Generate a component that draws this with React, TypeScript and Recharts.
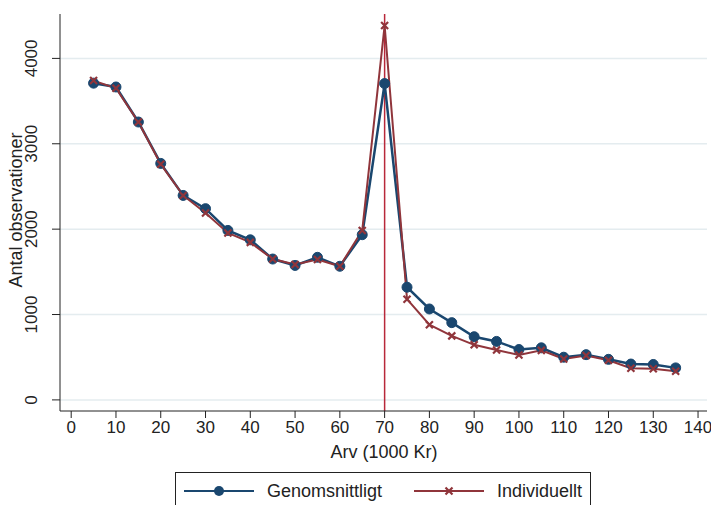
import { LineChart, Line, XAxis, YAxis, CartesianGrid, ReferenceLine } from "recharts"

// Arv (1000 Kr)
const arv = [5, 10, 15, 20, 25, 30, 35, 40, 45, 50, 55, 60, 65, 70, 75, 80, 85, 90, 95, 100, 105, 110, 115, 120, 125, 130, 135]
const genomsnittligt = [3710, 3665, 3255, 2770, 2395, 2240, 1985, 1875, 1650, 1575, 1670, 1565, 1935, 3705, 1320, 1065, 905, 740, 685, 590, 610, 500, 530, 475, 420, 415, 375]
const individuellt = [3740, 3650, 3255, 2760, 2395, 2190, 1955, 1845, 1650, 1585, 1645, 1565, 1985, 4385, 1180, 880, 750, 645, 585, 525, 580, 480, 520, 465, 370, 365, 335]
const xTicks = [0, 10, 20, 30, 40, 50, 60, 70, 80, 90, 100, 110, 120, 130, 140]
const yTicks = [0, 1000, 2000, 3000, 4000]

const data = arv.map((a, i) => ({ arv: a, gen: genomsnittligt[i], ind: individuellt[i] }))

const BLUE = "#1a476f"
const RED = "#90353b"
const FONT = "'Liberation Sans Narrow', 'Arial Narrow', 'Liberation Sans', Arial, sans-serif"

const CrossDot = (props: any) => {
  const { cx, cy } = props
  if (cx == null || cy == null) return null
  const s = 3.5
  return (
    <path
      d={`M${cx - s},${cy - s}L${cx + s},${cy + s}M${cx - s},${cy + s}L${cx + s},${cy - s}`}
      stroke={RED}
      strokeWidth={2.2}
      fill="none"
    />
  )
}

const YTick = (props: any) => {
  const { y, payload } = props
  return (
    <text
      x={37}
      y={y}
      transform={`rotate(-90, 37, ${y})`}
      textAnchor="middle"
      fontSize={17}
      fontFamily={FONT}
      fill="#222"
    >
      {payload.value}
    </text>
  )
}

export default function App() {
  return (
    <div style={{ position: "relative", width: 711, height: 505, background: "#fff" }}>
      <style>{`body{margin:0}`}</style>
      <LineChart width={711} height={505} data={data} margin={{ top: 14, right: 4, bottom: 44, left: 0 }}>
        <CartesianGrid vertical={false} stroke="#e4ecef" strokeWidth={1.5} horizontalValues={yTicks} />
        <XAxis
          dataKey="arv"
          type="number"
          domain={[-2.5, 142]}
          ticks={xTicks}
          allowDataOverflow
          height={50}
          tickSize={7}
          tickMargin={3}
          stroke="#222"
          tick={{ fontSize: 17, fontFamily: FONT, fill: "#222" }}
          label={{
            content: () => (
              <text x={384} y={458} textAnchor="middle" fontSize={18} fontFamily={FONT} fill="#222">
                Arv (1000 Kr)
              </text>
            ),
          }}
        />
        <YAxis
          type="number"
          domain={[-130, 4520]}
          ticks={yTicks}
          allowDataOverflow
          width={60}
          tickSize={8}
          stroke="#222"
          tick={<YTick />}
          label={{
            content: () => (
              <text
                x={22}
                y={210}
                transform="rotate(-90, 22, 210)"
                textAnchor="middle"
                fontSize={18}
                fontFamily={FONT}
                fill="#222"
              >
                Antal observationer
              </text>
            ),
          }}
        />
        <ReferenceLine x={70} stroke="#b8283a" strokeWidth={1.5} />
        <Line
          type="linear"
          dataKey="gen"
          stroke={BLUE}
          strokeWidth={2.5}
          dot={{ r: 5, fill: BLUE, stroke: BLUE, strokeWidth: 1 }}
          isAnimationActive={false}
        />
        <Line
          type="linear"
          dataKey="ind"
          stroke={RED}
          strokeWidth={2}
          dot={<CrossDot />}
          isAnimationActive={false}
        />
      </LineChart>
      <div
        style={{
          position: "absolute",
          left: 175,
          top: 472,
          width: 416,
          height: 40,
          border: "1px solid #222",
          boxSizing: "border-box",
        }}
      >
        <svg width={416} height={40} style={{ position: "absolute", left: 0, top: 0 }}>
          <line x1={8} x2={78} y1={18} y2={18} stroke={BLUE} strokeWidth={2} />
          <circle cx={43} cy={18} r={5} fill={BLUE} />
          <text x={91} y={24} fontSize={18} fontFamily={FONT} fill="#222">Genomsnittligt</text>
          <line x1={238} x2={308} y1={18} y2={18} stroke={RED} strokeWidth={2} />
          <CrossDot cx={273} cy={18} />
          <text x={321} y={24} fontSize={18} fontFamily={FONT} fill="#222">Individuellt</text>
        </svg>
      </div>
    </div>
  )
}
